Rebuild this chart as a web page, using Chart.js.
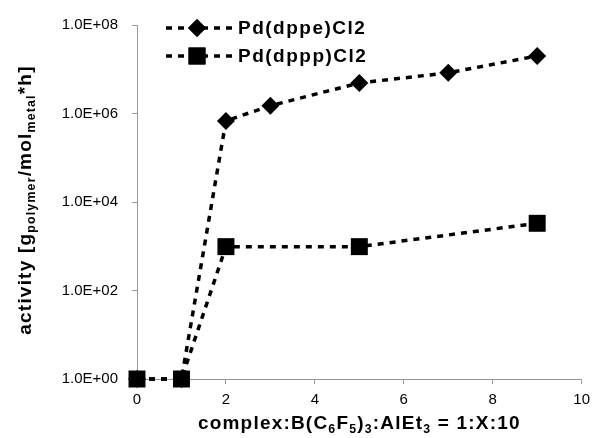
<!DOCTYPE html>
<html>
<head>
<meta charset="utf-8">
<script src="https://cdn.jsdelivr.net/npm/chart.js@4.4.1/dist/chart.umd.min.js"></script>
<style>
  body { margin: 0; background: #fff; }
  #wrap { width: 597px; height: 438px; }
</style>
</head>
<body>
<div id="wrap"><canvas id="activityChart" width="597" height="438"></canvas></div>
<script>
// data
const xDppe = [0, 1, 2, 3, 5, 7, 9];
const dppe = [1, 1, 6.8e5, 1.5e6, 4.9e6, 8.3e6, 2.0e7];
const xDppp = [0, 1, 2, 5, 9];
const dppp = [1, 1, 980, 980, 3300];
const yTicks = [1, 1e2, 1e4, 1e6, 1e8];
const labels = ['Pd(dppe)Cl2', 'Pd(dppp)Cl2'];

const FONT = '"Liberation Sans", Arial, sans-serif';

function sciLabel(v) {
    const e = Math.round(Math.log10(v));
    return '1.0E+' + String(e).padStart(2, '0');
}

// draws text with subscripts, centered on (x, y), optional rotation
function drawRich(ctx, parts, x, y, rot, size, spacing) {
    ctx.save();
    ctx.translate(x, y);
    ctx.rotate(rot);
    ctx.fillStyle = '#000';
    ctx.textBaseline = 'middle';
    ctx.textAlign = 'left';
    ctx.letterSpacing = spacing + 'px';
    let total = 0;
    parts.forEach(p => {
        ctx.font = 'bold ' + (p.sub ? size * 0.65 : size) + 'px ' + FONT;
        total += ctx.measureText(p.t).width;
    });
    let cx = -total / 2;
    parts.forEach(p => {
        ctx.font = 'bold ' + (p.sub ? size * 0.65 : size) + 'px ' + FONT;
        ctx.fillText(p.t, cx, p.sub ? size * 0.3 : 0);
        cx += ctx.measureText(p.t).width;
    });
    ctx.restore();
}

const titles = {
    id: 'titles',
    afterDraw(chart) {
        const ctx = chart.ctx;
        const area = chart.chartArea;
        drawRich(ctx, [
            { t: 'complex:B(C' }, { t: '6', sub: true }, { t: 'F' }, { t: '5', sub: true },
            { t: ')' }, { t: '3', sub: true }, { t: ':AlEt' }, { t: '3', sub: true },
            { t: ' = 1:X:10' }
        ], (area.left + area.right) / 2, 424, 0, 19, 1.2);
        drawRich(ctx, [
            { t: 'activity [g' }, { t: 'polymer', sub: true }, { t: '/mol' },
            { t: 'metal', sub: true }, { t: '*h]' }
        ], 26, 200, -Math.PI / 2, 19, 1.2);
    }
};

// legend drawn as a dashed sample with the marker in the middle
const legendBox = {
    id: 'legendBox',
    afterDraw(chart) {
        const ctx = chart.ctx;
        chart.data.datasets.forEach((ds, i) => {
            const y = 28 + i * 28;
            ctx.save();
            ctx.strokeStyle = '#000';
            ctx.lineWidth = ds.borderWidth;
            ctx.setLineDash(ds.borderDash);
            ctx.beginPath();
            ctx.moveTo(166, y);
            ctx.lineTo(232, y);
            ctx.stroke();
            ctx.setLineDash([]);
            ctx.fillStyle = '#000';
            Chart.helpers.drawPoint(ctx, {
                pointStyle: ds.pointStyle,
                radius: ds.pointRadius,
                rotation: 0,
                borderWidth: 0
            }, 197, y);
            ctx.fill();
            ctx.font = 'bold 19px ' + FONT;
            ctx.letterSpacing = '1.5px';
            ctx.textBaseline = 'middle';
            ctx.fillText(ds.label, 238, y + 1);
            ctx.restore();
        });
    }
};

const ctx = document.getElementById('activityChart').getContext('2d');
const activityChart = new Chart(ctx, {
    type: 'line',
    data: {
        datasets: [
            {
                label: labels[0],
                data: xDppe.map((x, i) => ({ x: x, y: dppe[i] })),
                borderColor: '#000',
                backgroundColor: '#000',
                borderWidth: 3.5,
                borderDash: [6, 6],
                pointStyle: 'rectRot',
                pointRadius: 9,
                pointBorderWidth: 0,
                clip: false,
                order: 1
            },
            {
                label: labels[1],
                data: xDppp.map((x, i) => ({ x: x, y: dppp[i] })),
                borderColor: '#000',
                backgroundColor: '#000',
                borderWidth: 3.5,
                borderDash: [6, 6],
                pointStyle: 'rect',
                pointRadius: 12,
                pointBorderWidth: 0,
                clip: false,
                order: 0
            }
        ]
    },
    options: {
        responsive: false,
        animation: false,
        layout: { padding: { top: 25, right: 13, left: 0, bottom: 0 } },
        plugins: {
            legend: { display: false },
            tooltip: { enabled: false }
        },
        scales: {
            x: {
                type: 'linear',
                min: 0,
                max: 10,
                ticks: { stepSize: 2, color: '#000', font: { family: FONT, size: 15 }, padding: 7 },
                grid: { drawOnChartArea: false, tickLength: 5, color: '#999' },
                border: { color: '#999' },
                afterFit(scale) { scale.height = 59; }
            },
            y: {
                type: 'logarithmic',
                min: 1,
                max: 1e8,
                afterBuildTicks(scale) { scale.ticks = yTicks.map(v => ({ value: v })); },
                ticks: {
                    color: '#000',
                    font: { family: FONT, size: 15 },
                    padding: 14,
                    callback: v => sciLabel(v)
                },
                grid: { drawOnChartArea: false, tickLength: 5, color: '#999' },
                border: { color: '#999' },
                afterFit(scale) { scale.width = 137; }
            }
        }
    },
    plugins: [titles, legendBox]
});
</script>
</body>
</html>
